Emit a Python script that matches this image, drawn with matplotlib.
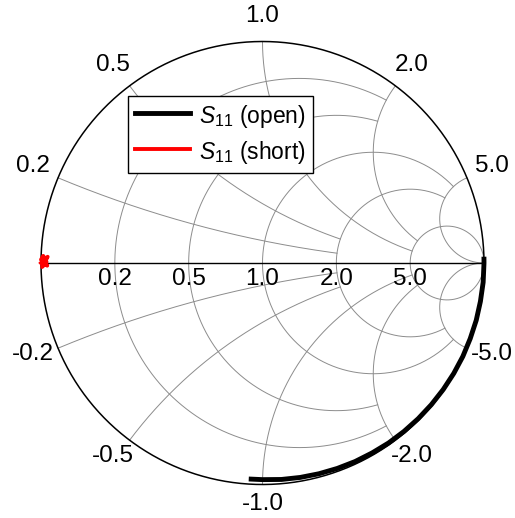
import numpy as np
import matplotlib.pyplot as plt

# Arial-like font for the labels, italic S in the legend
plt.rcParams['font.family'] = ['Liberation Sans', 'DejaVu Sans']
plt.rcParams['mathtext.fontset'] = 'custom'
plt.rcParams['mathtext.rm'] = 'Liberation Sans'
plt.rcParams['mathtext.it'] = 'Liberation Sans:italic'

# Smith chart grid: resistance circles / reactance arcs and where they stop
r_vals = [0.2, 0.5, 1.0, 2.0, 5.0]
r_stop = [2.0, 2.0, 5.0, 5.0, np.inf]   # max |x| drawn on each r circle
x_vals = [0.2, 0.5, 1.0, 2.0, 5.0]
x_stop = [2.0, 2.0, 5.0, 5.0, np.inf]   # max r drawn on each x arc

# measured S11, open standard (phase in degrees, magnitude)
open_phase = [1, 0, -5, -10, -15, -20, -25, -30, -35, -40, -45, -50,
              -55, -60, -65, -70, -75, -80, -85, -90, -93]
open_mag = [1.000, 1.000, 1.000, 0.999, 0.999, 0.998, 0.998, 0.997, 0.996,
            0.995, 0.994, 0.993, 0.992, 0.990, 0.989, 0.987, 0.985, 0.983,
            0.981, 0.978, 0.977]

# measured S11, short standard (real, imag)
short_re = [-1.000, -0.970, -0.995, -0.975, -0.990, -1.000, -0.972, -0.992, -0.985]
short_im = [0.000, 0.028, -0.018, 0.005, 0.032, 0.015, -0.012, 0.022, -0.005]


def gamma(z):
    return (z - 1) / (z + 1)


def r_circle(r, xmax):
    c = r / (1 + r)
    a = 1 / (1 + r)
    t0 = 0.0 if np.isinf(xmax) else np.angle(gamma(r + 1j * xmax) - c)
    th = np.linspace(t0, 2 * np.pi - t0, 500)
    return c + a * np.cos(th), a * np.sin(th)


def x_arc(x, rmax):
    tmax = 0.99999 if np.isinf(rmax) else rmax / (1 + rmax)
    t = np.linspace(0, tmax, 500)
    g = gamma(t / (1 - t) + 1j * x)
    return g.real, g.imag


fig = plt.figure(figsize=(5.15, 5.18), dpi=100)
ax = fig.add_axes([0, 0, 1, 1])
R = 221.5
ax.set_xlim(-262.5 / R, (515 - 262.5) / R)
ax.set_ylim((263 - 518) / R, 263 / R)
ax.axis('off')

grid_kw = dict(color='#8c8c8c', lw=0.7, zorder=1)
for r, xm in zip(r_vals, r_stop):
    u, v = r_circle(r, xm)
    ax.plot(u, v, **grid_kw)
for x, rm in zip(x_vals, x_stop):
    u, v = x_arc(x, rm)
    ax.plot(u, v, **grid_kw)
    ax.plot(u, -v, **grid_kw)

# outer circle and real axis
th = np.linspace(0, 2 * np.pi, 720)
ax.plot(np.cos(th), np.sin(th), color='black', lw=1.1, zorder=2)
ax.plot([-1, 1], [0, 0], color='black', lw=1.0, zorder=2)

# reactance labels around the rim
for x in x_vals:
    phi = np.angle(gamma(1j * x))
    for s in (1, -1):
        txt = f'{x:.1f}' if s > 0 else f'-{x:.1f}'
        ax.text(1.124 * np.cos(phi), s * 1.102 * np.sin(phi) + 0.012, txt,
                ha='center', va='center', fontsize=17.5)

# resistance labels along the real axis
for r in r_vals:
    ax.text((r - 1) / (r + 1), -0.0736, f'{r:.1f}',
            ha='center', va='center', fontsize=17.5)

# data
g_open = np.array(open_mag) * np.exp(1j * np.deg2rad(open_phase))
ax.plot(g_open.real, g_open.imag, color='black', lw=3.5, zorder=3,
        label=r'$S_{11}$ (open)')
ax.plot(short_re, short_im, color='red', lw=2.8, zorder=3,
        label=r'$S_{11}$ (short)')

leg = ax.legend(loc='upper left', bbox_to_anchor=(128 / 515, 1 - 96 / 518),
                borderaxespad=0, fontsize=16.5, fancybox=False, framealpha=1,
                edgecolor='black', handlelength=2.4, handleheight=1.25,
                borderpad=0.3, labelspacing=0.4, handletextpad=0.4)
leg.get_frame().set_linewidth(1.0)
leg.set_zorder(5)

fig.savefig('out.png', dpi=100)
